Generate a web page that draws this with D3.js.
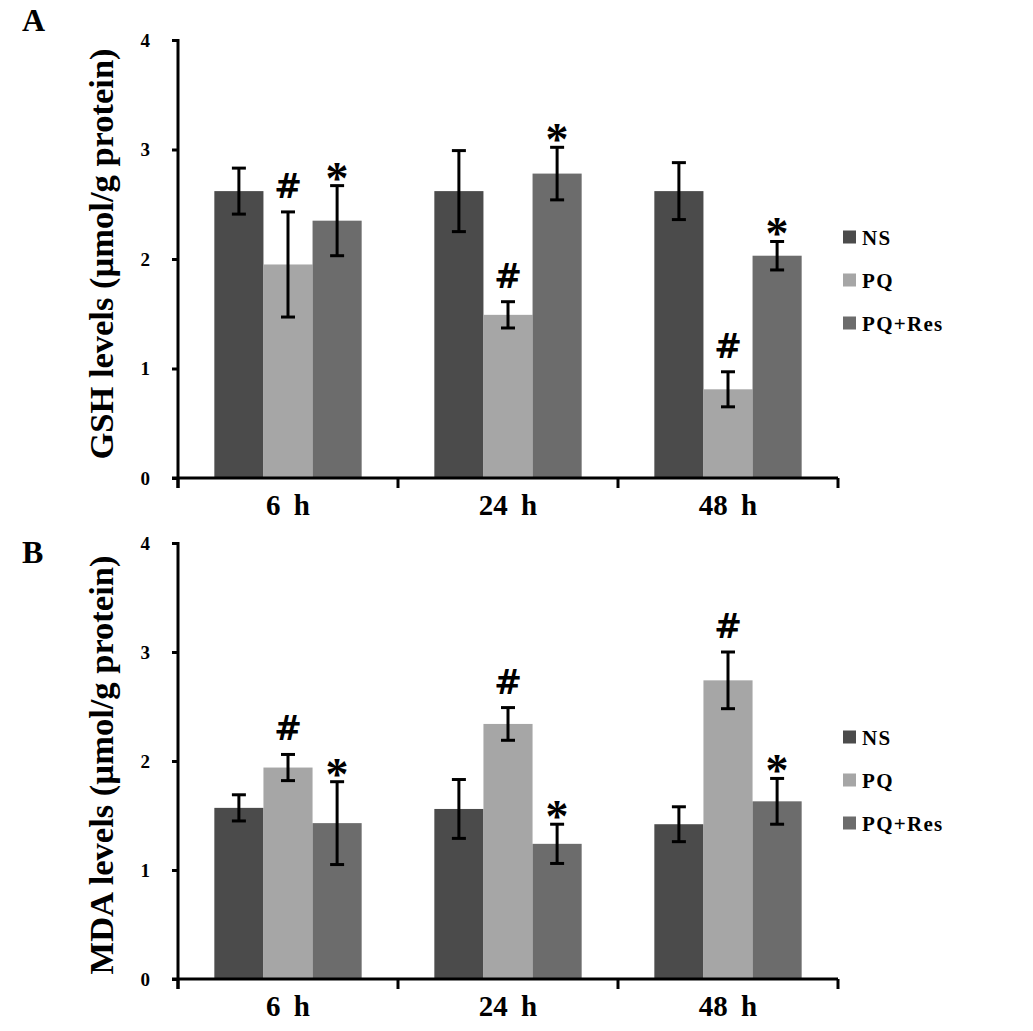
<!DOCTYPE html>
<html><head><meta charset="utf-8">
<script src="https://cdn.jsdelivr.net/npm/d3@7"></script>
<style>body{margin:0;background:#fff}svg{display:block}</style>
</head><body>
<script>
const categories = ["6 h", "24 h", "48 h"];
const series = ["NS", "PQ", "PQ+Res"];
const yTicks = [0, 1, 2, 3, 4];
// Panel A: GSH
const gshMean = [[2.62, 1.95, 2.35], [2.62, 1.49, 2.78], [2.62, 0.81, 2.03]];
const gshErr  = [[0.21, 0.48, 0.32], [0.37, 0.12, 0.24], [0.26, 0.16, 0.13]];
const gshMark = [["", "#", "*"], ["", "#", "*"], ["", "#", "*"]];
// Panel B: MDA
const mdaMean = [[1.57, 1.94, 1.43], [1.56, 2.34, 1.24], [1.42, 2.74, 1.63]];
const mdaErr  = [[0.12, 0.12, 0.38], [0.27, 0.15, 0.18], [0.16, 0.26, 0.21]];
const mdaMark = [["", "#", "*"], ["", "#", "*"], ["", "#", "*"]];

const colors = {"NS": "#4b4b4b", "PQ": "#a6a6a6", "PQ+Res": "#6c6c6c"};
const SERIF = '"Liberation Serif", "Times New Roman", serif';

const svg = d3.select("body").append("svg").attr("width", 1033).attr("height", 1031)
  .style("font-family", SERIF);

function panel(opt) {
  const g = svg.append("g");
  const y = d3.scaleLinear().domain([0, 4]).range([opt.y0, opt.y4]);
  const x0 = d3.scaleBand().domain(categories).range([178, 838]).padding(0);
  const x1 = d3.scaleBand().domain(series).range([0, x0.bandwidth()]).paddingInner(0).paddingOuter(0.74);

  // bars
  categories.forEach((c, i) => {
    series.forEach((s, j) => {
      g.append("rect")
        .attr("x", x0(c) + x1(s)).attr("width", x1.bandwidth())
        .attr("y", y(opt.mean[i][j])).attr("height", y(0) - y(opt.mean[i][j]))
        .attr("fill", colors[s]);
    });
  });
  // error bars + significance marks
  categories.forEach((c, i) => {
    series.forEach((s, j) => {
      const cx = x0(c) + x1(s) + x1.bandwidth() / 2;
      const hi = y(opt.mean[i][j] + opt.err[i][j]);
      const lo = y(opt.mean[i][j] - opt.err[i][j]);
      const eg = g.append("g").attr("stroke", "#000").attr("stroke-width", 3);
      eg.append("line").attr("x1", cx).attr("x2", cx).attr("y1", hi).attr("y2", lo);
      eg.append("line").attr("x1", cx - 7).attr("x2", cx + 7).attr("y1", hi).attr("y2", hi);
      eg.append("line").attr("x1", cx - 7).attr("x2", cx + 7).attr("y1", lo).attr("y2", lo);
      const m = opt.mark[i][j];
      if (m === "#") {
        g.append("text").attr("x", cx).attr("y", hi - 14)
          .attr("text-anchor", "middle").attr("font-weight", "bold")
          .style("font-family", '"DejaVu Serif", serif')
          .attr("font-size", 33).text(m);
      } else if (m === "*") {
        g.append("text").attr("x", cx).attr("y", hi + 8)
          .attr("text-anchor", "middle").attr("font-weight", "bold")
          .attr("font-size", 46).text(m);
      }
    });
  });

  // y axis ticks and labels
  const ya = g.append("g").attr("transform", "translate(178,0)")
    .call(d3.axisLeft(y).tickValues(yTicks).tickSize(6).tickPadding(22).tickFormat(d3.format("d")));
  ya.select(".domain").remove();
  ya.attr("font-family", null);
  ya.selectAll(".tick line").attr("stroke", "#000").attr("stroke-width", 3);
  ya.selectAll(".tick text").attr("font-size", 19).attr("font-weight", "bold")
    .style("font-family", SERIF).attr("fill", "#000");
  g.append("line").attr("x1", 178).attr("x2", 178).attr("y1", y(4) - 1).attr("y2", y(0) + 10)
    .attr("stroke", "#000").attr("stroke-width", 3);
  // x axis
  g.append("line").attr("x1", 172).attr("x2", 838).attr("y1", y(0)).attr("y2", y(0))
    .attr("stroke", "#000").attr("stroke-width", 3);
  const bounds = categories.map(c => x0(c)).concat([x0(categories[2]) + x0.bandwidth()]);
  bounds.forEach(b => {
    g.append("line").attr("x1", b).attr("x2", b).attr("y1", y(0)).attr("y2", y(0) + 10)
      .attr("stroke", "#000").attr("stroke-width", 3);
  });
  categories.forEach(c => {
    g.append("text").attr("x", x0(c) + x0.bandwidth() / 2).attr("y", y(0) + 37)
      .attr("text-anchor", "middle").attr("font-size", 29).attr("font-weight", "bold")
      .attr("word-spacing", 6).text(c);
  });
  // y title
  g.append("text").attr("transform", `translate(113,${(y(0) + y(4)) / 2 + opt.titleShift}) rotate(-90)`)
    .attr("text-anchor", "middle").attr("font-size", 34.5).attr("font-weight", "bold").text(opt.title);
  // panel label
  g.append("text").attr("x", 22).attr("y", opt.labelY).attr("font-size", 32).attr("font-weight", "bold").text(opt.label);
  // legend
  series.forEach((s, j) => {
    const ly = opt.legY + j * 43;
    g.append("rect").attr("x", 843).attr("y", ly - 6.5).attr("width", 13).attr("height", 13).attr("fill", colors[s]);
    g.append("text").attr("x", 862).attr("y", ly + 8).attr("font-size", 21).attr("font-weight", "bold")
      .attr("letter-spacing", 1.3).text(s);
  });
}

panel({y0: 478, y4: 40, mean: gshMean, err: gshErr, mark: gshMark,
  title: "GSH levels (µmol/g protein)", label: "A", labelY: 31, legY: 237, titleShift: -5});
panel({y0: 979, y4: 543, mean: mdaMean, err: mdaErr, mark: mdaMark,
  title: "MDA levels (µmol/g protein)", label: "B", labelY: 563, legY: 737, titleShift: 4});
</script>
</body></html>
